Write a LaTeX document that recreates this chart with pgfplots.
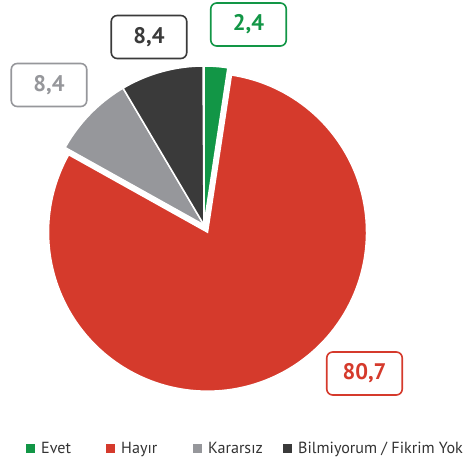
\documentclass[border=0pt]{standalone}
\usepackage{fontspec}
\setmainfont{PT Sans}
\usepackage{pgfplots}
\usepackage{pgfplotstable}
\pgfplotsset{compat=1.18}
\definecolor{cEvet}{RGB}{18,150,70}
\definecolor{cHayir}{RGB}{213,58,44}
\definecolor{cKarar}{RGB}{150,151,155}
\definecolor{cBilm}{RGB}{58,58,58}
\definecolor{cText}{RGB}{51,51,51}
\pgfplotstableread{
label value
Evet 2.4
Hayir 80.7
Kararsiz 8.4
Bilmiyorum 8.4
}\piedata
\begin{document}
\begin{tikzpicture}
\pgfplotstablegetelem{0}{value}\of\piedata \let\vA\pgfplotsretval
\pgfplotstablegetelem{1}{value}\of\piedata \let\vB\pgfplotsretval
\pgfplotstablegetelem{2}{value}\of\piedata \let\vC\pgfplotsretval
\pgfplotstablegetelem{3}{value}\of\piedata \let\vD\pgfplotsretval
\pgfmathsetmacro{\aA}{90}
\pgfmathsetmacro{\aB}{\aA-3.6*\vA}
\pgfmathsetmacro{\aC}{\aB-3.6*\vB}
\pgfmathsetmacro{\aD}{\aC-3.6*\vC}
\pgfmathsetmacro{\aE}{\aD-3.6*\vD}
\pgfmathsetmacro{\mB}{(\aB+\aC)/2}
\pgfmathsetmacro{\cx}{204}
\pgfmathsetmacro{\cy}{236}
\pgfmathsetmacro{\rx}{\cx+8*cos(\mB)}
\pgfmathsetmacro{\ry}{\cy+8*sin(\mB)}
\pgfmathsetmacro{\R}{159}
\begin{axis}[
  scale only axis, width=466pt, height=461pt,
  xmin=0, xmax=466, ymin=0, ymax=461,
  hide axis, clip=false, anchor=south west, at={(0pt,0pt)},
  legend columns=4,
  legend image code/.code={\fill[#1,draw=none] (0pt,-4.5pt) rectangle (9pt,4.5pt);},
  legend style={draw=none, fill=none, inner sep=0pt, at={(axis cs:26,12.5)}, anchor=west,
    nodes={inner sep=0pt, text=cText, font=\fontsize{16.1}{19}\selectfont},
    /tikz/every even column/.append style={column sep=0pt}},
  legend cell align=left,
]
\addplot[fill=cEvet, draw=white, line width=1.5pt, domain=\aB:\aA, samples=20, variable=\t]
  ({\cx+\R*cos(\t)},{\cy+\R*sin(\t)}) -- (axis cs:\cx,\cy) -- cycle;
\addlegendentry{\hspace{6pt}\makebox[65pt][l]{Evet}}
\addplot[fill=cHayir, draw=white, line width=1.5pt, domain=\aC:\aB, samples=160, variable=\t]
  ({\rx+\R*cos(\t)},{\ry+\R*sin(\t)}) -- (axis cs:\rx,\ry) -- cycle;
\addlegendentry{\hspace{6pt}\makebox[72pt][l]{Hayır}}
\addplot[fill=cKarar, draw=white, line width=1.5pt, domain=\aD:\aC, samples=30, variable=\t]
  ({\cx+\R*cos(\t)},{\cy+\R*sin(\t)}) -- (axis cs:\cx,\cy) -- cycle;
\addlegendentry{\hspace{6pt}\makebox[75pt][l]{Kararsız}}
\addplot[fill=cBilm, draw=white, line width=1.5pt, domain=\aE:\aD, samples=30, variable=\t]
  ({\cx+\R*cos(\t)},{\cy+\R*sin(\t)}) -- (axis cs:\cx,\cy) -- cycle;
\addlegendentry{\hspace{6pt}Bilmiyorum / Fikrim Yok}
\tikzset{lbl/.style={draw=#1, text=#1, fill=white, line width=1.6pt, rounded corners=6pt,
  minimum width=75.5pt, minimum height=43pt, inner sep=0pt,
  font=\bfseries\fontsize{22.5}{22.5}\selectfont}}
\node[lbl=cEvet] at (axis cs:248.5,436.5) {2,4};
\node[lbl=cBilm] at (axis cs:149,424) {8,4};
\node[lbl=cKarar] at (axis cs:49,376) {8,4};
\node[lbl=cHayir] at (axis cs:364.5,87.5) {80,7};
\end{axis}
\pgfresetboundingbox
\useasboundingbox (0pt,0pt) rectangle (466pt,461pt);
\end{tikzpicture}
\end{document}
